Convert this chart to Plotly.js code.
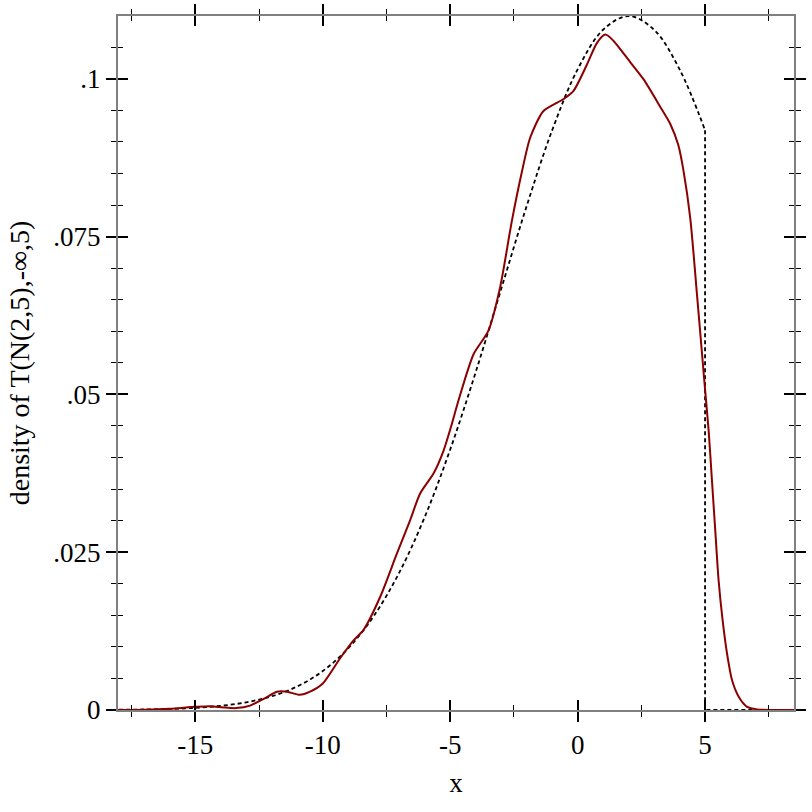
<!DOCTYPE html>
<html>
<head>
<meta charset="utf-8">
<script src="https://cdn.plot.ly/plotly-3.0.1.min.js"></script>
<style>html,body{margin:0;padding:0;background:#fff}#chart{width:812px;height:812px}</style>
</head>
<body>
<div id="chart"></div>
<script>
// Truncated normal density T(N(2,5),-inf,5) (dashed)
const pdfX = [-18,-17,-16,-15,-14,-13,-12,-11,-10,-9,-8,-7,-6,-5,-4,-3,-2,-1,0,1,2,3,4,5];
const pdfY = [0.000037,0.00008,0.00017,0.00034,0.00066,0.00122,0.00218,0.00374,0.00617,0.00978,0.01488,0.02176,0.03057,0.04127,0.05352,0.06669,0.07984,0.09184,0.10150,0.10777,0.10995,0.10777,0.10150,0.09184];
// the drop at the upper bound and the zero tail
const cutX = [5, 5, 8.49];
const cutY = [0.09184, 0, 0];

// Kernel density estimate of samples (dark red)
const kdeX = [-18.04,-17,-16,-15,-14.4,-13.9,-13.4,-12.85,-12.3,-11.8,-11.4,-10.9,-10.5,-10.0,-9.32,-8.8,-8.4,-7.75,-7.09,-6.57,-6.18,-5.65,-5.26,-4.93,-4.67,-4.08,-3.5,-3.04,-2.58,-2.18,-1.86,-1.34,-0.55,-0.16,0.37,0.76,1.09,1.41,2.07,2.59,3.25,3.64,3.95,4.16,4.42,4.69,4.97,5.14,5.27,5.40,5.53,5.69,5.86,6.06,6.32,6.65,7.04,7.5,8.49];
const kdeY = [0,0.00005,0.0002,0.0005,0.0006,0.0004,0.0003,0.0007,0.0018,0.0029,0.0029,0.0024,0.0029,0.0042,0.0082,0.0110,0.0127,0.0179,0.0248,0.0301,0.0343,0.0375,0.0411,0.0454,0.0491,0.0564,0.0601,0.0670,0.0775,0.0854,0.0907,0.0949,0.0968,0.0981,0.1023,0.1057,0.1070,0.1060,0.1026,0.0999,0.0955,0.0928,0.0895,0.0853,0.0779,0.0655,0.0522,0.0443,0.0364,0.0285,0.0206,0.0142,0.0090,0.0047,0.0021,0.0005,0.0001,0,0];

const xTickVals = [-15,-10,-5,0,5];
const xTickText = ['-15','-10','-5','0','5'];
const yTickVals = [0,0.025,0.05,0.075,0.1];
const yTickText = ['0','.025','.05','.075','.1'];

const xRange = [-18.035, 8.49];
const yRange = [0, 0.10995];

const fontFam = '"Liberation Serif", "Times New Roman", serif';
const dashStyle = {color:'#000', width:1.8, dash:'4px,3px'};

const traces = [
  {x: pdfX, y: pdfY, mode:'lines', line: Object.assign({shape:'spline', smoothing:1}, dashStyle), hoverinfo:'skip'},
  {x: cutX, y: cutY, mode:'lines', line: Object.assign({shape:'linear'}, dashStyle), hoverinfo:'skip'},
  {x: kdeX, y: kdeY, mode:'lines', line:{color:'#8b0000', width:2, shape:'spline', smoothing:0.7}, hoverinfo:'skip'}
];

const common = {
  showgrid:false, zeroline:false, showline:true, linecolor:'#808080', linewidth:2,
  tickcolor:'#000', tickwidth:2, ticklen:10
};

const layout = {
  width:812, height:812,
  margin:{l:118, r:18, t:16, b:102},
  paper_bgcolor:'#fff', plot_bgcolor:'#fff',
  showlegend:false,
  font:{family:fontFam, size:27, color:'#000'},
  xaxis: Object.assign({}, common, {
    range:xRange, tickmode:'array', tickvals:xTickVals, ticktext:xTickText,
    ticks:'outside', mirror:'allticks', tickfont:{family:fontFam, size:27},
    minor:{ticks:'outside', ticklen:5, tickwidth:1, tickcolor:'#000', tick0:0, dtick:2.5},
    title:{text:'x', font:{family:fontFam, size:27}, standoff:14}
  }),
  xaxis2: Object.assign({}, common, {
    range:xRange, overlaying:'x', matches:'x', anchor:'y', tickmode:'array', tickvals:xTickVals,
    ticks:'inside', mirror:'allticks', showticklabels:false,
    minor:{ticks:'inside', ticklen:5, tickwidth:1, tickcolor:'#000', tick0:0, dtick:2.5}
  }),
  yaxis: Object.assign({}, common, {
    range:yRange, tickmode:'array', tickvals:yTickVals, ticktext:yTickText,
    ticks:'outside', mirror:'allticks', tickfont:{family:fontFam, size:27},
    minor:{ticks:'outside', ticklen:5, tickwidth:1, tickcolor:'#000', tick0:0, dtick:0.005},
    title:{text:'density of T(N(2,5),-∞,5)', font:{family:fontFam, size:28}, standoff:16}
  }),
  yaxis2: Object.assign({}, common, {
    range:yRange, overlaying:'y', matches:'y', anchor:'x', side:'left', tickmode:'array', tickvals:yTickVals,
    ticks:'inside', mirror:'allticks', showticklabels:false,
    minor:{ticks:'inside', ticklen:5, tickwidth:1, tickcolor:'#000', tick0:0, dtick:0.005}
  })
};

// a hidden trace to activate the overlaying axes
traces.push({x:[xRange[0]], y:[yRange[0]], xaxis:'x2', yaxis:'y2', mode:'markers', marker:{opacity:0}, hoverinfo:'skip'});

Plotly.newPlot('chart', traces, layout, {staticPlot:true, displayModeBar:false});
</script>
</body>
</html>
